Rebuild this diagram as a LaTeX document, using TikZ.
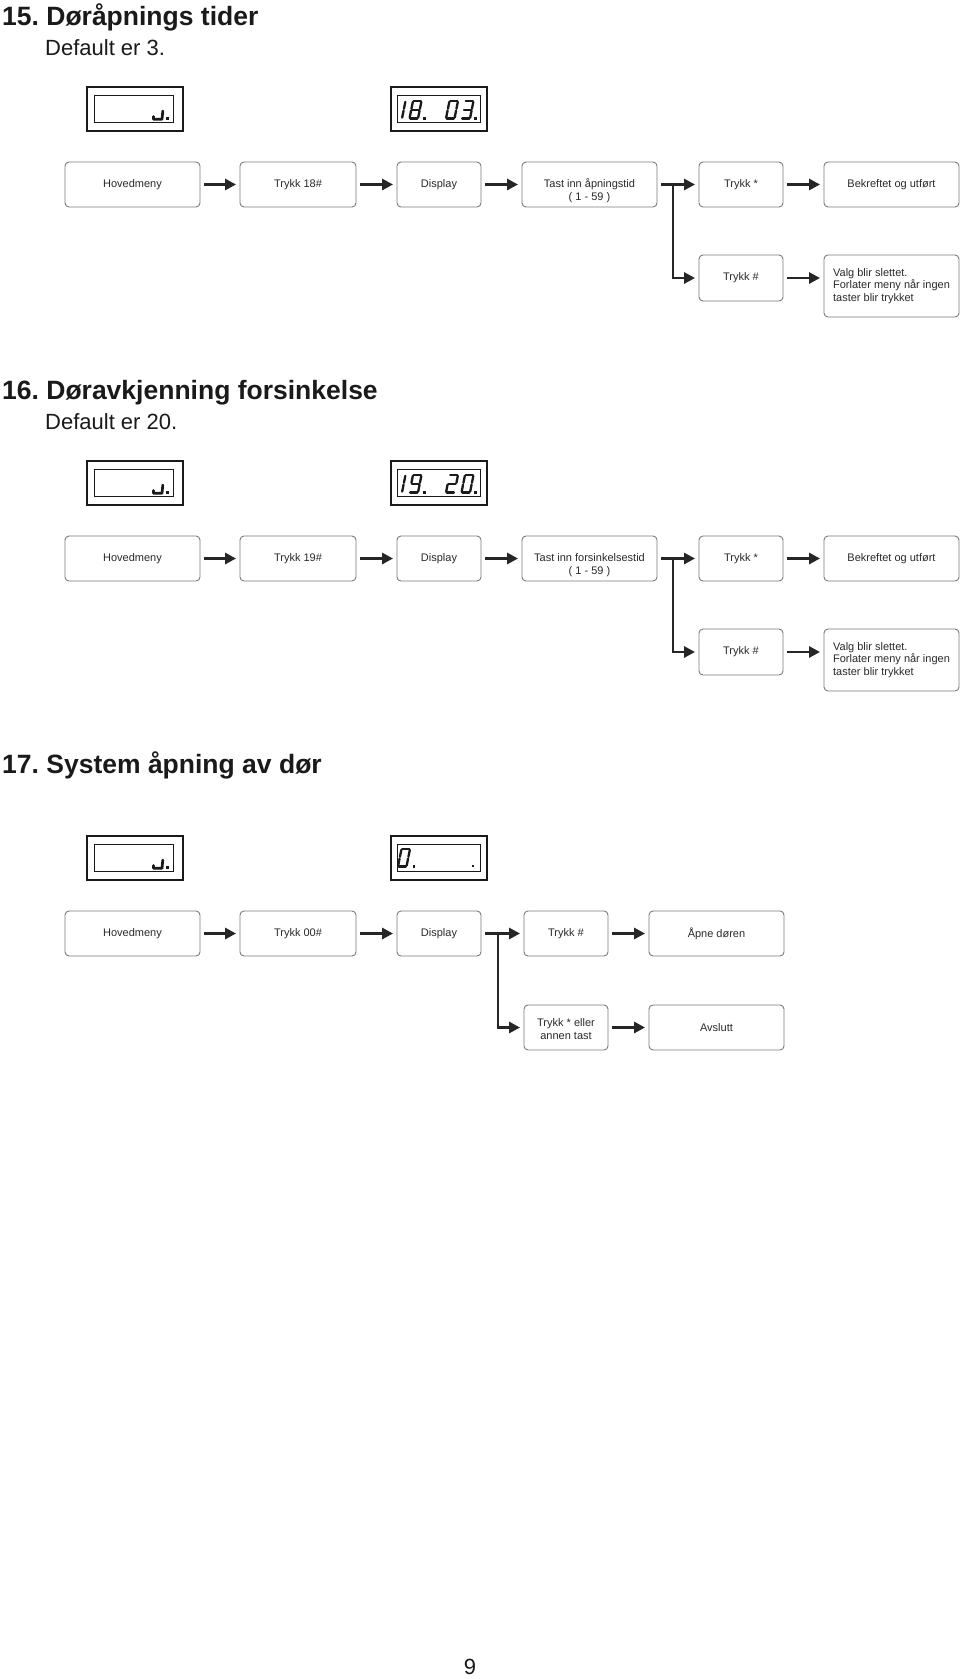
\documentclass[tikz,border=0pt]{standalone}
\usepackage{fontspec}
\setmainfont{Liberation Sans}
\usetikzlibrary{arrows.meta}
\definecolor{txt}{HTML}{2A2A2A}
\definecolor{boxc}{HTML}{7A7A7A}
\definecolor{arr}{HTML}{262626}
\definecolor{ink}{HTML}{1A1A1A}
\frenchspacing

\tikzset{
  box/.style={draw=boxc, line width=0.9pt, rounded corners=4pt, minimum height=45pt,
    text=txt, font=\fontsize{11}{12.5}\selectfont, inner sep=0pt, align=center},
  flow/.style={draw=arr, line width=2.8pt, -{Triangle[length=11pt,width=11pt]},
    shorten <=4pt, shorten >=3.5pt},
  branch/.style={draw=arr, line width=2.8pt, -{Triangle[length=11pt,width=11pt]},
    shorten >=3.5pt},
  title/.style={anchor=base west, inner sep=0pt, text=ink, font=\fontsize{26.5}{30}\selectfont\bfseries},
  sub/.style={anchor=base west, inner sep=0pt, text=ink, font=\fontsize{22}{25}\selectfont},
  dispout/.style={draw=ink, line width=2pt, minimum width=96pt, minimum height=44pt, inner sep=0pt},
  dispin/.style={draw=ink, line width=1pt},
  segline/.style={draw=ink, line width=2.3pt, line cap=round},
  glyph/.style={draw=ink, line width=2.7pt, line cap=round, line join=round},
}

\def\sega{\draw[segline] (0.08,1)--(0.92,1);}
\def\segb{\draw[segline] (1,0.95)--(1,0.55);}
\def\segc{\draw[segline] (1,0.45)--(1,0.05);}
\def\segd{\draw[segline] (0.08,0)--(0.92,0);}
\def\sege{\draw[segline] (0,0.05)--(0,0.45);}
\def\segf{\draw[segline] (0,0.55)--(0,0.95);}
\def\segg{\draw[segline] (0.08,0.5)--(0.92,0.5);}
\newcommand\sevdigit[3]{%
  \begin{scope}[shift={(#1,#2)}, x={(8.5pt,0pt)}, y={(3.5pt,17.5pt)}]
    \foreach \s in {#3}{\csname seg\s\endcsname}
  \end{scope}}
\newcommand\segdot[2]{\fill[ink] (#1-1.3,#2-1.3) rectangle (#1+1.3,#2+1.3);}
\newcommand\twolines[3]{\raisebox{#1}[0pt][0pt]{\begin{tabular}{@{}c@{}}#2\\[0.3pt]#3\end{tabular}}}

\begin{document}
\begin{tikzpicture}[x=1pt,y=-1pt]
\useasboundingbox[fill=white] (0,0) rectangle (960,1679);

% ================= Section 15 =================
\node[title] (t15) at (2,25) {15. Døråpnings tider};
\node[sub] (s15) at (45,55) {Default er 3.};

\node[dispout] (da15) at (134.5,109) {};
\draw[dispin] (94,95) rectangle (173,122.5);
\draw[glyph] (153.5,116.5) -- (153.5,119.3) -- (162,119.3) -- (162.8,111);
\segdot{167.5}{118.3}

\node[dispout] (db15) at (438.5,109) {};
\draw[dispin] (397.5,95.5) rectangle (480.5,122.5);
\sevdigit{393.5}{118.5}{b,c}
\sevdigit{409.5}{118.5}{a,b,c,d,e,f,g}
\segdot{424.5}{118.3}
\sevdigit{446}{118.5}{a,b,c,d,e,f}
\sevdigit{461.5}{118.5}{a,b,c,d,g}
\segdot{475.5}{118.3}

\node[box, minimum width=135pt] (h15) at (132.5,184.5) {Hovedmeny};
\node[box, minimum width=116pt] (k15) at (298,184.5) {Trykk 18\#};
\node[box, minimum width=84pt]  (d15) at (439,184.5) {Display};
\node[box, minimum width=135pt] (i15) at (589.5,184.5) {\twolines{-9.5pt}{Tast inn åpningstid}{( 1 - 59 )}};
\node[box, minimum width=84pt]  (a15) at (741,184.5) {Trykk *};
\node[box, minimum width=135pt] (b15) at (891.5,184.5) {Bekreftet og utført};
\node[box, minimum width=84pt, minimum height=46pt] (p15) at (741,278) {Trykk \#};
\node[box, minimum width=135pt, minimum height=62pt, align=left] (v15) at (891.5,286) {Valg blir slettet.\\Forlater meny når ingen\\taster blir trykket};

\draw[flow] (h15) -- (k15);
\draw[flow] (k15) -- (d15);
\draw[flow] (d15) -- (i15);
\draw[flow] (i15) -- (a15);
\draw[flow] (a15) -- (b15);
\coordinate (j15) at (673,184.5);
\draw[branch] (j15) |- (p15.west);
\draw[flow] (p15.east) -- (p15.east -| v15.west);

% ================= Section 16 =================
\node[title] (t16) at (2,399) {16. Døravkjenning forsinkelse};
\node[sub] (s16) at (45,429) {Default er 20.};

\node[dispout] (da16) at (134.5,483) {};
\draw[dispin] (94,469) rectangle (173,496.5);
\draw[glyph] (153.5,490.5) -- (153.5,493.3) -- (162,493.3) -- (162.8,485);
\segdot{167.5}{492.3}

\node[dispout] (db16) at (438.5,483) {};
\draw[dispin] (397.5,469.5) rectangle (480.5,496.5);
\sevdigit{393.5}{492.5}{b,c}
\sevdigit{409.5}{492.5}{a,b,c,d,f,g}
\segdot{424.5}{492.3}
\sevdigit{446}{492.5}{a,b,d,e,g}
\sevdigit{461.5}{492.5}{a,b,c,d,e,f}
\segdot{475.5}{492.3}

\node[box, minimum width=135pt] (h16) at (132.5,558.5) {Hovedmeny};
\node[box, minimum width=116pt] (k16) at (298,558.5) {Trykk 19\#};
\node[box, minimum width=84pt]  (d16) at (439,558.5) {Display};
\node[box, minimum width=135pt] (i16) at (589.5,558.5) {\twolines{-9.5pt}{Tast inn forsinkelsestid}{( 1 - 59 )}};
\node[box, minimum width=84pt]  (a16) at (741,558.5) {Trykk *};
\node[box, minimum width=135pt] (b16) at (891.5,558.5) {Bekreftet og utført};
\node[box, minimum width=84pt, minimum height=46pt] (p16) at (741,652) {Trykk \#};
\node[box, minimum width=135pt, minimum height=62pt, align=left] (v16) at (891.5,660) {Valg blir slettet.\\Forlater meny når ingen\\taster blir trykket};

\draw[flow] (h16) -- (k16);
\draw[flow] (k16) -- (d16);
\draw[flow] (d16) -- (i16);
\draw[flow] (i16) -- (a16);
\draw[flow] (a16) -- (b16);
\coordinate (j16) at (673,558.5);
\draw[branch] (j16) |- (p16.west);
\draw[flow] (p16.east) -- (p16.east -| v16.west);

% ================= Section 17 =================
\node[title] (t17) at (2,773) {17. System åpning av dør};

\node[dispout] (da17) at (134.5,858) {};
\draw[dispin] (94,844) rectangle (173,871.5);
\draw[glyph] (153.5,865.5) -- (153.5,868.3) -- (162,868.3) -- (162.8,860);
\segdot{167.5}{867.3}

\node[dispout] (db17) at (438.5,858) {};
\draw[dispin] (397.5,844) rectangle (480.5,871.5);
\sevdigit{398}{866.5}{a,b,c,d,e,f}
\segdot{414}{866.5}
\segdot{473}{866}

\node[box, minimum width=135pt] (h17) at (132.5,933.5) {Hovedmeny};
\node[box, minimum width=116pt] (k17) at (298,933.5) {Trykk 00\#};
\node[box, minimum width=84pt]  (d17) at (439,933.5) {Display};
\node[box, minimum width=84pt]  (p17) at (566,933.5) {Trykk \#};
\node[box, minimum width=135pt] (o17) at (716.5,933.5) {Åpne døren};
\node[box, minimum width=84pt]  (a17) at (566,1027.5) {\twolines{-6pt}{Trykk * eller}{annen tast}};
\node[box, minimum width=135pt] (e17) at (716.5,1027.5) {Avslutt};

\draw[flow] (h17) -- (k17);
\draw[flow] (k17) -- (d17);
\draw[flow] (d17) -- (p17);
\draw[flow] (p17) -- (o17);
\coordinate (j17) at (498,933.5);
\draw[branch] (j17) |- (a17.west);
\draw[flow] (a17) -- (e17);

% page number
\node[inner sep=0pt, text=ink, font=\fontsize{22}{24}\selectfont] (pg) at (470,1667) {9};
\end{tikzpicture}
\end{document}
